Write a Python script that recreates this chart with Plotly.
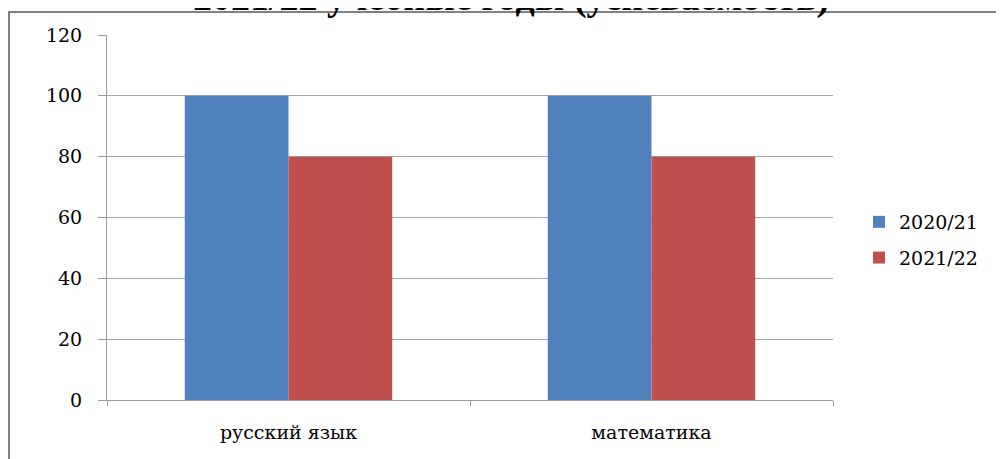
import plotly.graph_objects as go

categories = ["русский язык", "математика"]
series_names = ["2020/21", "2021/22"]
values_2020 = [100, 100]
values_2021 = [80, 80]
y_ticks = [0, 20, 40, 60, 80, 100, 120]
title_text = "2021/22 учебные годы (успеваемость)"

colors = ["#4F81BD", "#C0504D"]
# the page body has an 8px margin, so the figure is sized to fit inside the window
W, H = 996, 451
L, R, T, B = 99, 171, 27, 59
pw, ph = W - L - R, H - T - B

def px_x(x):
    return (x - L) / pw

def px_y(y):
    return (H - B - y) / ph

fig = go.Figure()
for name, vals, col, grp in zip(series_names, [values_2020, values_2021], colors, ["a", "b"]):
    fig.add_trace(go.Bar(x=categories, y=vals, name=name, marker=dict(color=col, line=dict(width=0)),
                         legendgroup=grp))

serif = "DejaVu Serif, Liberation Serif, serif"
title_font = "Liberation Serif, Times New Roman, serif"
fig.update_layout(
    width=W, height=H,
    margin=dict(l=L, r=R, t=T, b=B, pad=0),
    paper_bgcolor="white", plot_bgcolor="white",
    barmode="group", bargap=0.4286, bargroupgap=0,
    font=dict(family=serif, size=19, color="black"),
    showlegend=True,
    legend=dict(x=px_x(851), xanchor="left", y=px_y(232), yanchor="middle",
                font=dict(family=serif, size=19, color="black"),
                tracegroupgap=8, bgcolor="rgba(0,0,0,0)"),
    xaxis=dict(type="category", showline=True, linecolor="#9a9a9a", linewidth=1,
               ticks="outside", ticklen=5, tickcolor="#9a9a9a", tickson="boundaries",
               ticklabelstandoff=15, tickfont=dict(family=serif, size=19, color="black"),
               showgrid=False, fixedrange=True),
    yaxis=dict(range=[0, 120], tickvals=y_ticks, showline=True, linecolor="#9a9a9a", linewidth=1,
               ticks="outside", ticklen=8, tickcolor="#9a9a9a", ticklabelstandoff=12,
               showgrid=True, gridcolor="#a6a6a6", gridwidth=1, zeroline=False,
               tickfont=dict(family=serif, size=19, color="black")),
    annotations=[dict(text="<b>" + title_text + "</b>", xref="paper", yref="paper",
                      x=px_x(503), y=px_y(13), xanchor="center", yanchor="bottom",
                      showarrow=False, font=dict(family=title_font, size=38, color="black"))],
    shapes=[
        dict(type="line", xref="paper", yref="paper", x0=px_x(0), x1=px_x(996), y0=px_y(4), y1=px_y(4),
             line=dict(color="#808080", width=2)),
        dict(type="line", xref="paper", yref="paper", x0=px_x(1), x1=px_x(1), y0=px_y(4), y1=px_y(451),
             line=dict(color="#808080", width=2)),
    ],
)

fig.write_html("out.html")
